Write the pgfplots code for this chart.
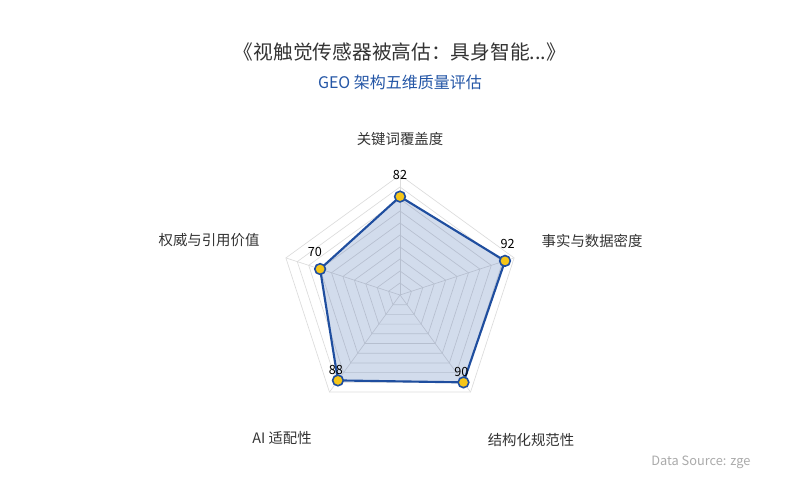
\documentclass[border=0pt]{standalone}
\usepackage{fontspec}
\setmainfont{Noto Sans CJK SC}
\usepackage{pgfplots}
\pgfplotsset{compat=1.18}

\definecolor{mainblue}{HTML}{1F4E9F}
\definecolor{subblue}{HTML}{2456A6}
\definecolor{dotyellow}{HTML}{F5C518}
\definecolor{titlegray}{HTML}{333333}
\definecolor{gridgray}{HTML}{DCDCDC}
\definecolor{srcgray}{HTML}{AAAAAA}

\begin{document}
\begin{tikzpicture}
% pixel frame: 800 x 500 px, 1px = 0.75pt, origin top-left
\begin{scope}[x=0.75pt, y=-0.75pt, shift={(0,375pt)}]
  \useasboundingbox (0,0) rectangle (800,500);
  \node[font=\fontsize{14.8}{17}\selectfont, text=titlegray] at (400,52) {《视触觉传感器被高估：具身智能...》};
  \node[font=\fontsize{12}{14}\selectfont, text=subblue] at (400,82) {GEO 架构五维质量评估};
  \node[font=\fontsize{10.8}{12}\selectfont, text=titlegray] at (400,139) {关键词覆盖度};
  \node[font=\fontsize{10.8}{12}\selectfont, text=titlegray, anchor=west] at (537,241) {事实与数据密度};
  \node[font=\fontsize{10.8}{12}\selectfont, text=titlegray] at (531,440) {结构化规范性};
  \node[font=\fontsize{10.8}{12}\selectfont, text=titlegray] at (282,438) {AI 适配性};
  \node[font=\fontsize{10.8}{12}\selectfont, text=titlegray] at (209,240) {权威与引用价值};
  \begin{scope}
    \clip (600,440) rectangle (750,485);
    \node[font=\fontsize{9.6}{11}\selectfont, text=srcgray, anchor=west, inner sep=0pt] at (651,462) {Data Source: zgeo.ai};
  \end{scope}
\end{scope}

\begin{axis}[
    at={(300pt,153.75pt)}, anchor=origin,
    x=0.9pt, y=0.9pt,
    xmin=-120, xmax=120, ymin=-120, ymax=120,
    hide axis, clip=false,
]
% grid rings every 10
\pgfplotsinvokeforeach{10,20,30,40,50,60,70,80,90,100}{
  \addplot[gridgray, line width=0.5pt, data cs=polar] coordinates {(90,#1) (18,#1) (-54,#1) (-126,#1) (162,#1) (90,#1)};
}
% spokes
\pgfplotsinvokeforeach{90,18,-54,-126,162}{
  \addplot[gridgray, line width=0.5pt, data cs=polar] coordinates {(#1,0) (#1,100)};
}
% series
\addplot[mainblue, line width=1.6pt, line join=round, fill=mainblue, fill opacity=0.2, draw opacity=1, data cs=polar]
  coordinates {(90,82) (18,92) (-54,90) (-126,88) (162,70) (90,82)};
\addplot[only marks, mark=*, mark size=4pt, mark options={fill=dotyellow, draw=mainblue, line width=1.2pt}, data cs=polar]
  coordinates {(90,82) (18,92) (-54,90) (-126,88) (162,70)};
% value labels
\addplot[draw=none, data cs=polar, point meta=explicit symbolic, nodes near coords,
  every node near coord/.append style={font=\fontsize{9.5}{10}\selectfont, text=black, anchor=center, yshift=16pt}]
  coordinates {(90,82)[82]};
\addplot[draw=none, data cs=polar, point meta=explicit symbolic, nodes near coords,
  every node near coord/.append style={font=\fontsize{9.5}{10}\selectfont, text=black, anchor=center, yshift=12.5pt, xshift=2pt}]
  coordinates {(18,92)[92]};
\addplot[draw=none, data cs=polar, point meta=explicit symbolic, nodes near coords,
  every node near coord/.append style={font=\fontsize{9.5}{10}\selectfont, text=black, anchor=center, yshift=12.5pt, xshift=-4pt}]
  coordinates {(162,70)[70]};
\addplot[draw=none, data cs=polar, point meta=explicit symbolic, nodes near coords,
  every node near coord/.append style={font=\fontsize{9.5}{10}\selectfont, text=black, anchor=center, yshift=7.5pt, xshift=-1.5pt}]
  coordinates {(-126,88)[88] (-54,90)[90]};
\end{axis}
\end{tikzpicture}
\end{document}
